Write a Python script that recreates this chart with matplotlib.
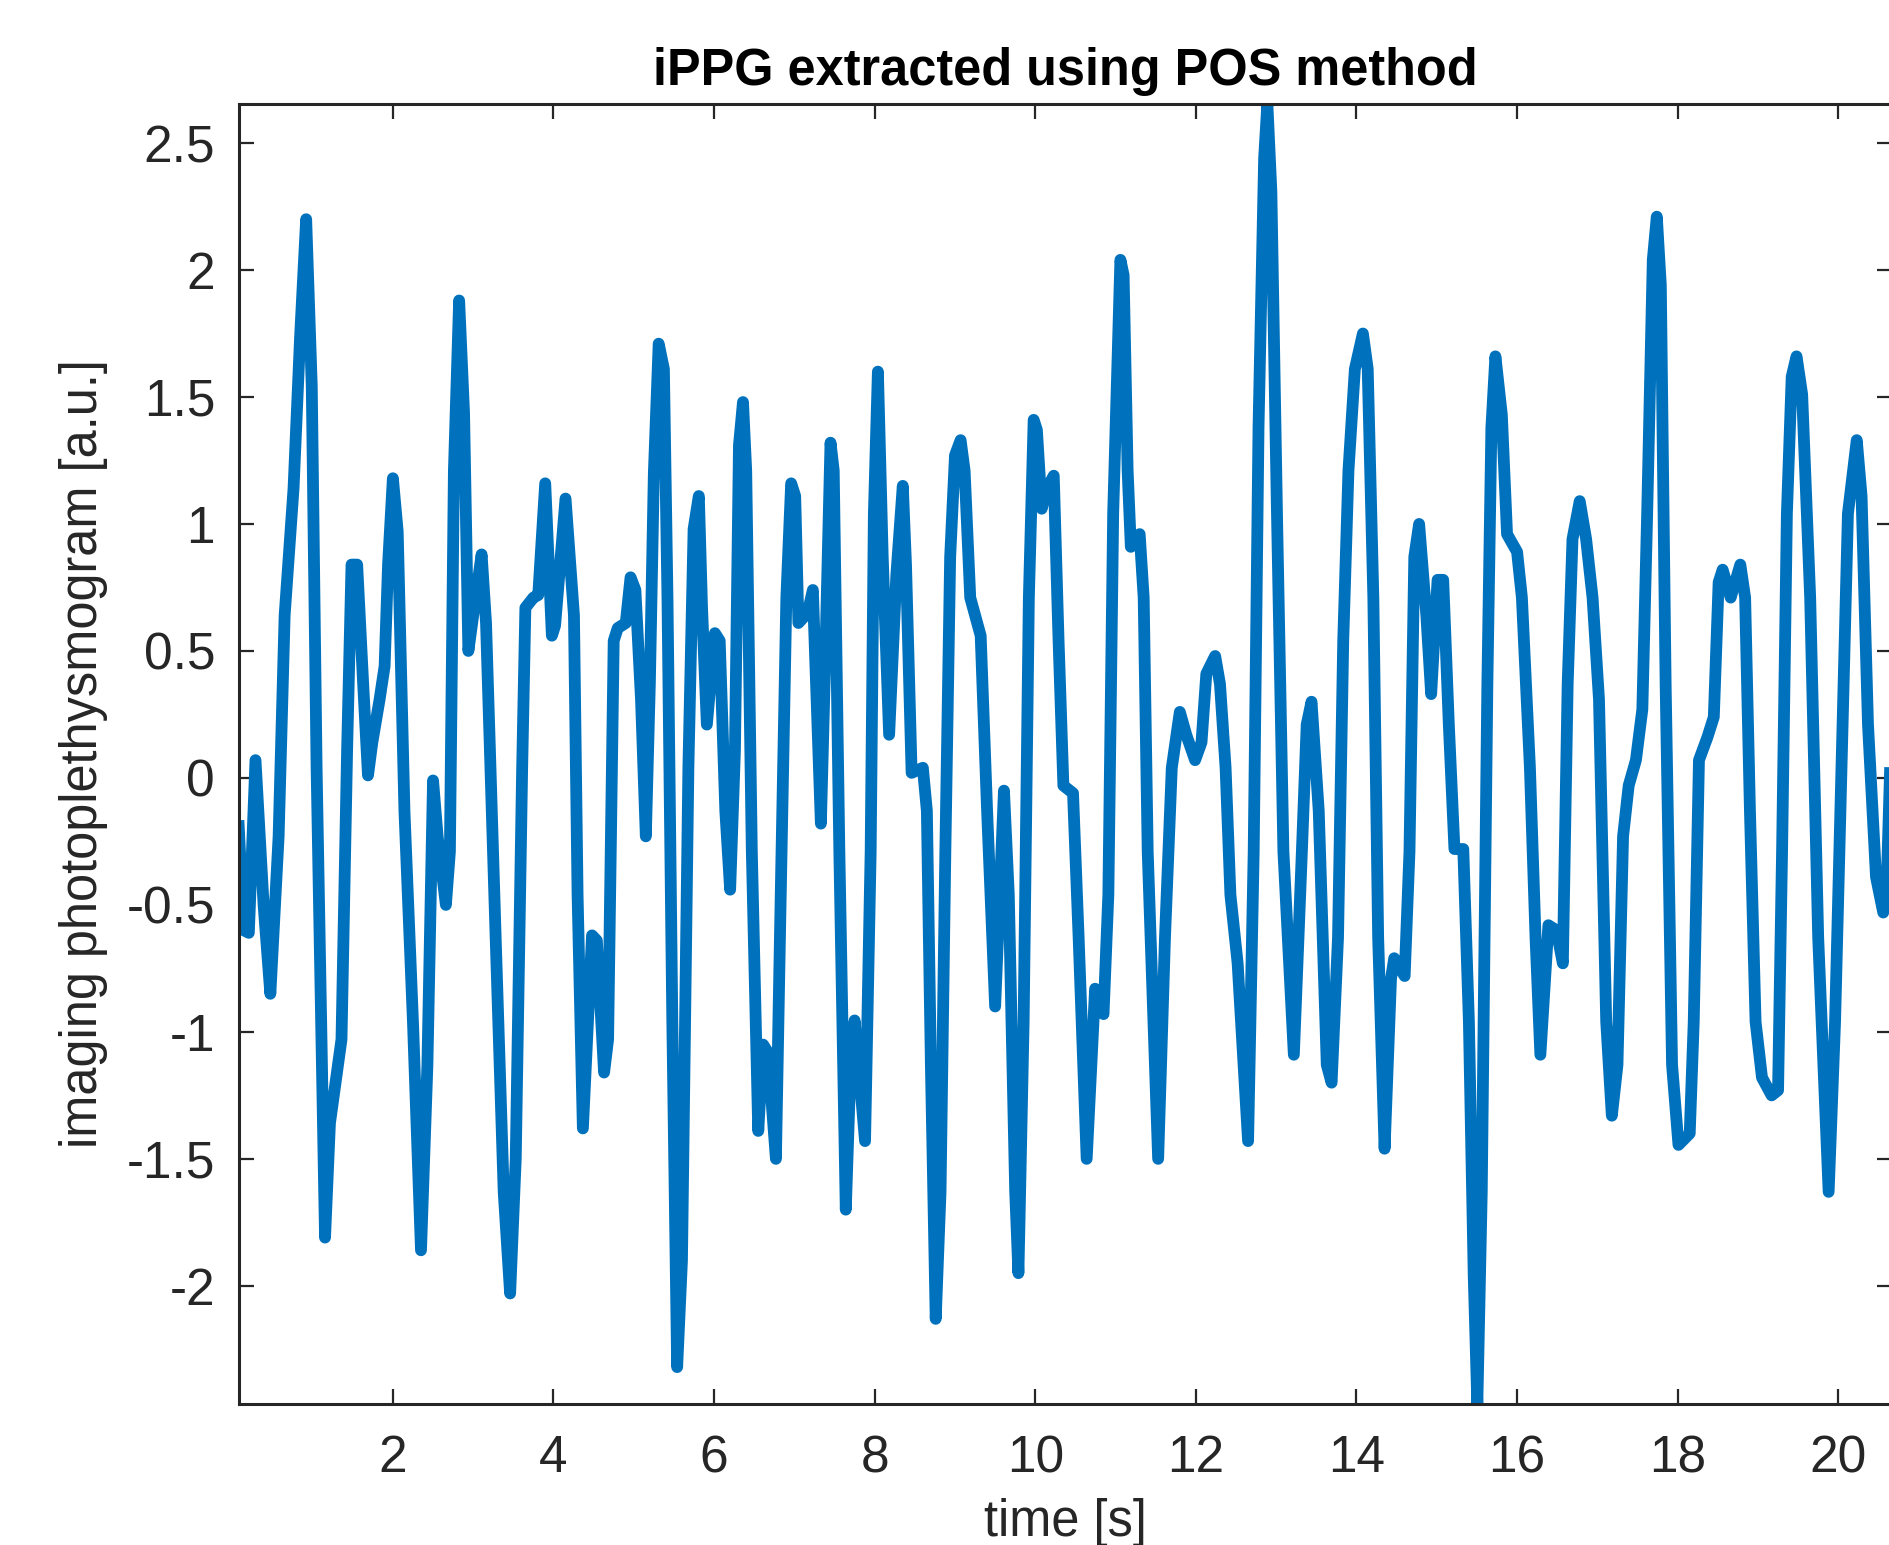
import matplotlib
matplotlib.use("Agg")
import matplotlib.pyplot as plt
from matplotlib.ticker import FuncFormatter

plt.rcParams["font.family"] = ["Liberation Sans", "DejaVu Sans"]
plt.rcParams["axes.unicode_minus"] = False

# signal (time [s], amplitude [a.u.])
t = [0.08, 0.144, 0.206, 0.289, 0.39, 0.474, 0.577, 0.652, 0.763, 0.845,
     0.92, 0.99, 1.05, 1.155, 1.216, 1.36, 1.43, 1.485, 1.555, 1.63,
     1.69, 1.744, 1.835, 1.897, 1.94, 2.0, 2.06, 2.144, 2.25, 2.35,
     2.43, 2.50, 2.557, 2.66, 2.71, 2.76, 2.825, 2.886, 2.94, 3.03,
     3.105, 3.16, 3.28, 3.38, 3.46, 3.53, 3.61, 3.65, 3.75, 3.81,
     3.897, 3.98, 4.02, 4.15, 4.255, 4.30, 4.366, 4.48, 4.54, 4.63,
     4.68, 4.75, 4.80, 4.90, 4.96, 5.02, 5.09, 5.15, 5.20, 5.25,
     5.31, 5.375, 5.42, 5.48, 5.54, 5.60, 5.68, 5.745, 5.81, 5.85,
     5.91, 6.01, 6.07, 6.14, 6.20, 6.26, 6.31, 6.36, 6.40, 6.47,
     6.55, 6.61, 6.67, 6.77, 6.82, 6.90, 6.96, 7.01, 7.05, 7.165,
     7.23, 7.33, 7.39, 7.45, 7.49, 7.56, 7.64, 7.70, 7.75, 7.88,
     7.95, 7.99, 8.04, 8.10, 8.18, 8.27, 8.35, 8.39, 8.46, 8.60,
     8.65, 8.70, 8.76, 8.82, 8.88, 8.94, 9.00, 9.07, 9.12, 9.19,
     9.32, 9.40, 9.50, 9.61, 9.67, 9.75, 9.79, 9.855, 9.92, 9.98,
     10.02, 10.08, 10.145, 10.23, 10.29, 10.35, 10.47, 10.54, 10.64, 10.745,
     10.85, 10.91, 10.97, 11.06, 11.10, 11.15, 11.19, 11.30, 11.35, 11.40,
     11.53, 11.615, 11.70, 11.80, 11.88, 11.99, 12.07, 12.13, 12.24, 12.30,
     12.37, 12.43, 12.52, 12.65, 12.72, 12.78, 12.85, 12.89, 12.94, 13.01,
     13.09, 13.22, 13.32, 13.38, 13.44, 13.53, 13.63, 13.69, 13.77, 13.835,
     13.90, 13.98, 14.08, 14.14, 14.21, 14.27, 14.35, 14.43, 14.47, 14.60,
     14.66, 14.72, 14.78, 14.87, 14.93, 15.01, 15.08, 15.15, 15.22, 15.33,
     15.40, 15.46, 15.505, 15.56, 15.63, 15.68, 15.73, 15.81, 15.875, 16.00,
     16.06, 16.16, 16.23, 16.29, 16.39, 16.49, 16.57, 16.63, 16.69, 16.78,
     16.86, 16.94, 17.02, 17.11, 17.18, 17.25, 17.32, 17.39, 17.48, 17.56,
     17.62, 17.69, 17.74, 17.79, 17.85, 17.93, 18.01, 18.15, 18.20, 18.265,
     18.37, 18.45, 18.51, 18.56, 18.66, 18.78, 18.84, 18.90, 18.97, 19.05,
     19.17, 19.25, 19.30, 19.36, 19.42, 19.48, 19.55, 19.65, 19.75, 19.88,
     19.96, 20.04, 20.12, 20.23, 20.29, 20.37, 20.47, 20.56, 20.60, 20.67]
ippg = [-0.19, -0.60, -0.61, 0.07, -0.50, -0.85, -0.23, 0.64, 1.14, 1.74,
        2.20, 1.54, 0.04, -1.81, -1.36, -1.03, 0.11, 0.84, 0.84, 0.37,
        0.01, 0.14, 0.31, 0.44, 0.84, 1.18, 0.97, -0.13, -0.96, -1.86,
        -1.13, -0.01, -0.23, -0.50, -0.29, 1.21, 1.88, 1.44, 0.50, 0.71,
        0.88, 0.61, -0.63, -1.63, -2.03, -1.50, 0.04, 0.67, 0.71, 0.72,
        1.16, 0.56, 0.60, 1.10, 0.64, -0.46, -1.38, -0.62, -0.64, -1.16,
        -1.03, 0.54, 0.59, 0.61, 0.79, 0.74, 0.31, -0.23, 0.37, 1.20,
        1.71, 1.61, 0.70, -0.96, -2.32, -1.90, 0.04, 0.98, 1.11, 0.67,
        0.21, 0.57, 0.54, -0.13, -0.44, 0.11, 1.31, 1.48, 1.21, -0.29,
        -1.39, -1.05, -1.08, -1.50, -0.63, 0.71, 1.16, 1.11, 0.61, 0.65,
        0.74, -0.18, 0.54, 1.32, 1.21, -0.29, -1.70, -1.13, -0.955, -1.43,
        -0.29, 1.04, 1.60, 0.87, 0.17, 0.80, 1.15, 0.84, 0.02, 0.04,
        -0.13, -1.13, -2.13, -1.63, -0.29, 0.87, 1.27, 1.33, 1.21, 0.71,
        0.56, -0.13, -0.90, -0.05, -0.46, -1.63, -1.95, -0.96, 0.71, 1.41,
        1.37, 1.06, 1.14, 1.19, 0.54, -0.03, -0.06, -0.63, -1.50, -0.83,
        -0.93, -0.46, 1.04, 2.04, 1.98, 1.21, 0.91, 0.96, 0.71, -0.29,
        -1.50, -0.63, 0.04, 0.26, 0.17, 0.07, 0.14, 0.41, 0.48, 0.37,
        0.04, -0.46, -0.73, -1.43, -0.29, 1.38, 2.44, 2.655, 2.31, 1.04,
        -0.29, -1.09, -0.29, 0.21, 0.30, -0.13, -1.13, -1.20, -0.63, 0.54,
        1.21, 1.61, 1.75, 1.61, 0.71, -0.63, -1.46, -0.79, -0.71, -0.78,
        -0.29, 0.87, 1.00, 0.64, 0.33, 0.78, 0.78, 0.21, -0.28, -0.28,
        -0.96, -1.96, -2.465, -1.63, 0.37, 1.38, 1.66, 1.43, 0.96, 0.89,
        0.71, 0.04, -0.63, -1.09, -0.58, -0.60, -0.73, 0.37, 0.94, 1.09,
        0.94, 0.71, 0.31, -0.96, -1.33, -1.13, -0.23, -0.03, 0.07, 0.27,
        1.04, 2.04, 2.21, 1.94, 0.37, -1.13, -1.445, -1.40, -0.96, 0.07,
        0.16, 0.24, 0.77, 0.82, 0.71, 0.84, 0.71, -0.13, -0.96, -1.18,
        -1.25, -1.23, -0.29, 1.04, 1.58, 1.66, 1.51, 0.71, -0.63, -1.63,
        -0.96, 0.04, 1.04, 1.33, 1.11, 0.21, -0.39, -0.53, -0.46, 0.30]

xticks = [2, 4, 6, 8, 10, 12, 14, 16, 18, 20]
yticks = [-2, -1.5, -1, -0.5, 0, 0.5, 1, 1.5, 2, 2.5]

fig = plt.figure(figsize=(18.9, 15.45), dpi=100)
ax = fig.add_axes([0.1263, 0.0913, 0.8748, 0.8416])

ax.plot(t, ippg, color="#0072BD", linewidth=8.5, solid_joinstyle="round")

ax.set_xlim(0.08, 20.67)
ax.set_ylim(-2.465, 2.655)
ax.set_xticks(xticks)
ax.set_yticks(yticks)
ax.yaxis.set_major_formatter(FuncFormatter(lambda v, p: "%g" % v))
ax.xaxis.set_major_formatter(FuncFormatter(lambda v, p: "%g" % v))

dark = "#262626"
for s in ax.spines.values():
    s.set_linewidth(2.2)
    s.set_color(dark)
ax.tick_params(direction="in", length=11, width=1.6, colors=dark,
               labelsize=37, top=True, right=True)
ax.tick_params(axis="x", pad=22)
ax.tick_params(axis="y", pad=17)

ax.set_title("iPPG extracted using POS method", fontsize=36.4,
             fontweight="bold", color="black", pad=13.7)
ax.set_xlabel("time [s]", fontsize=36.4, color=dark)
ax.set_ylabel("imaging photoplethysmogram [a.u.]", fontsize=36.4, color=dark)
ax.xaxis.set_label_coords(0.5, -0.072)
ax.yaxis.set_label_coords(-0.079, 0.5)

fig.savefig("out.png", dpi=100)
